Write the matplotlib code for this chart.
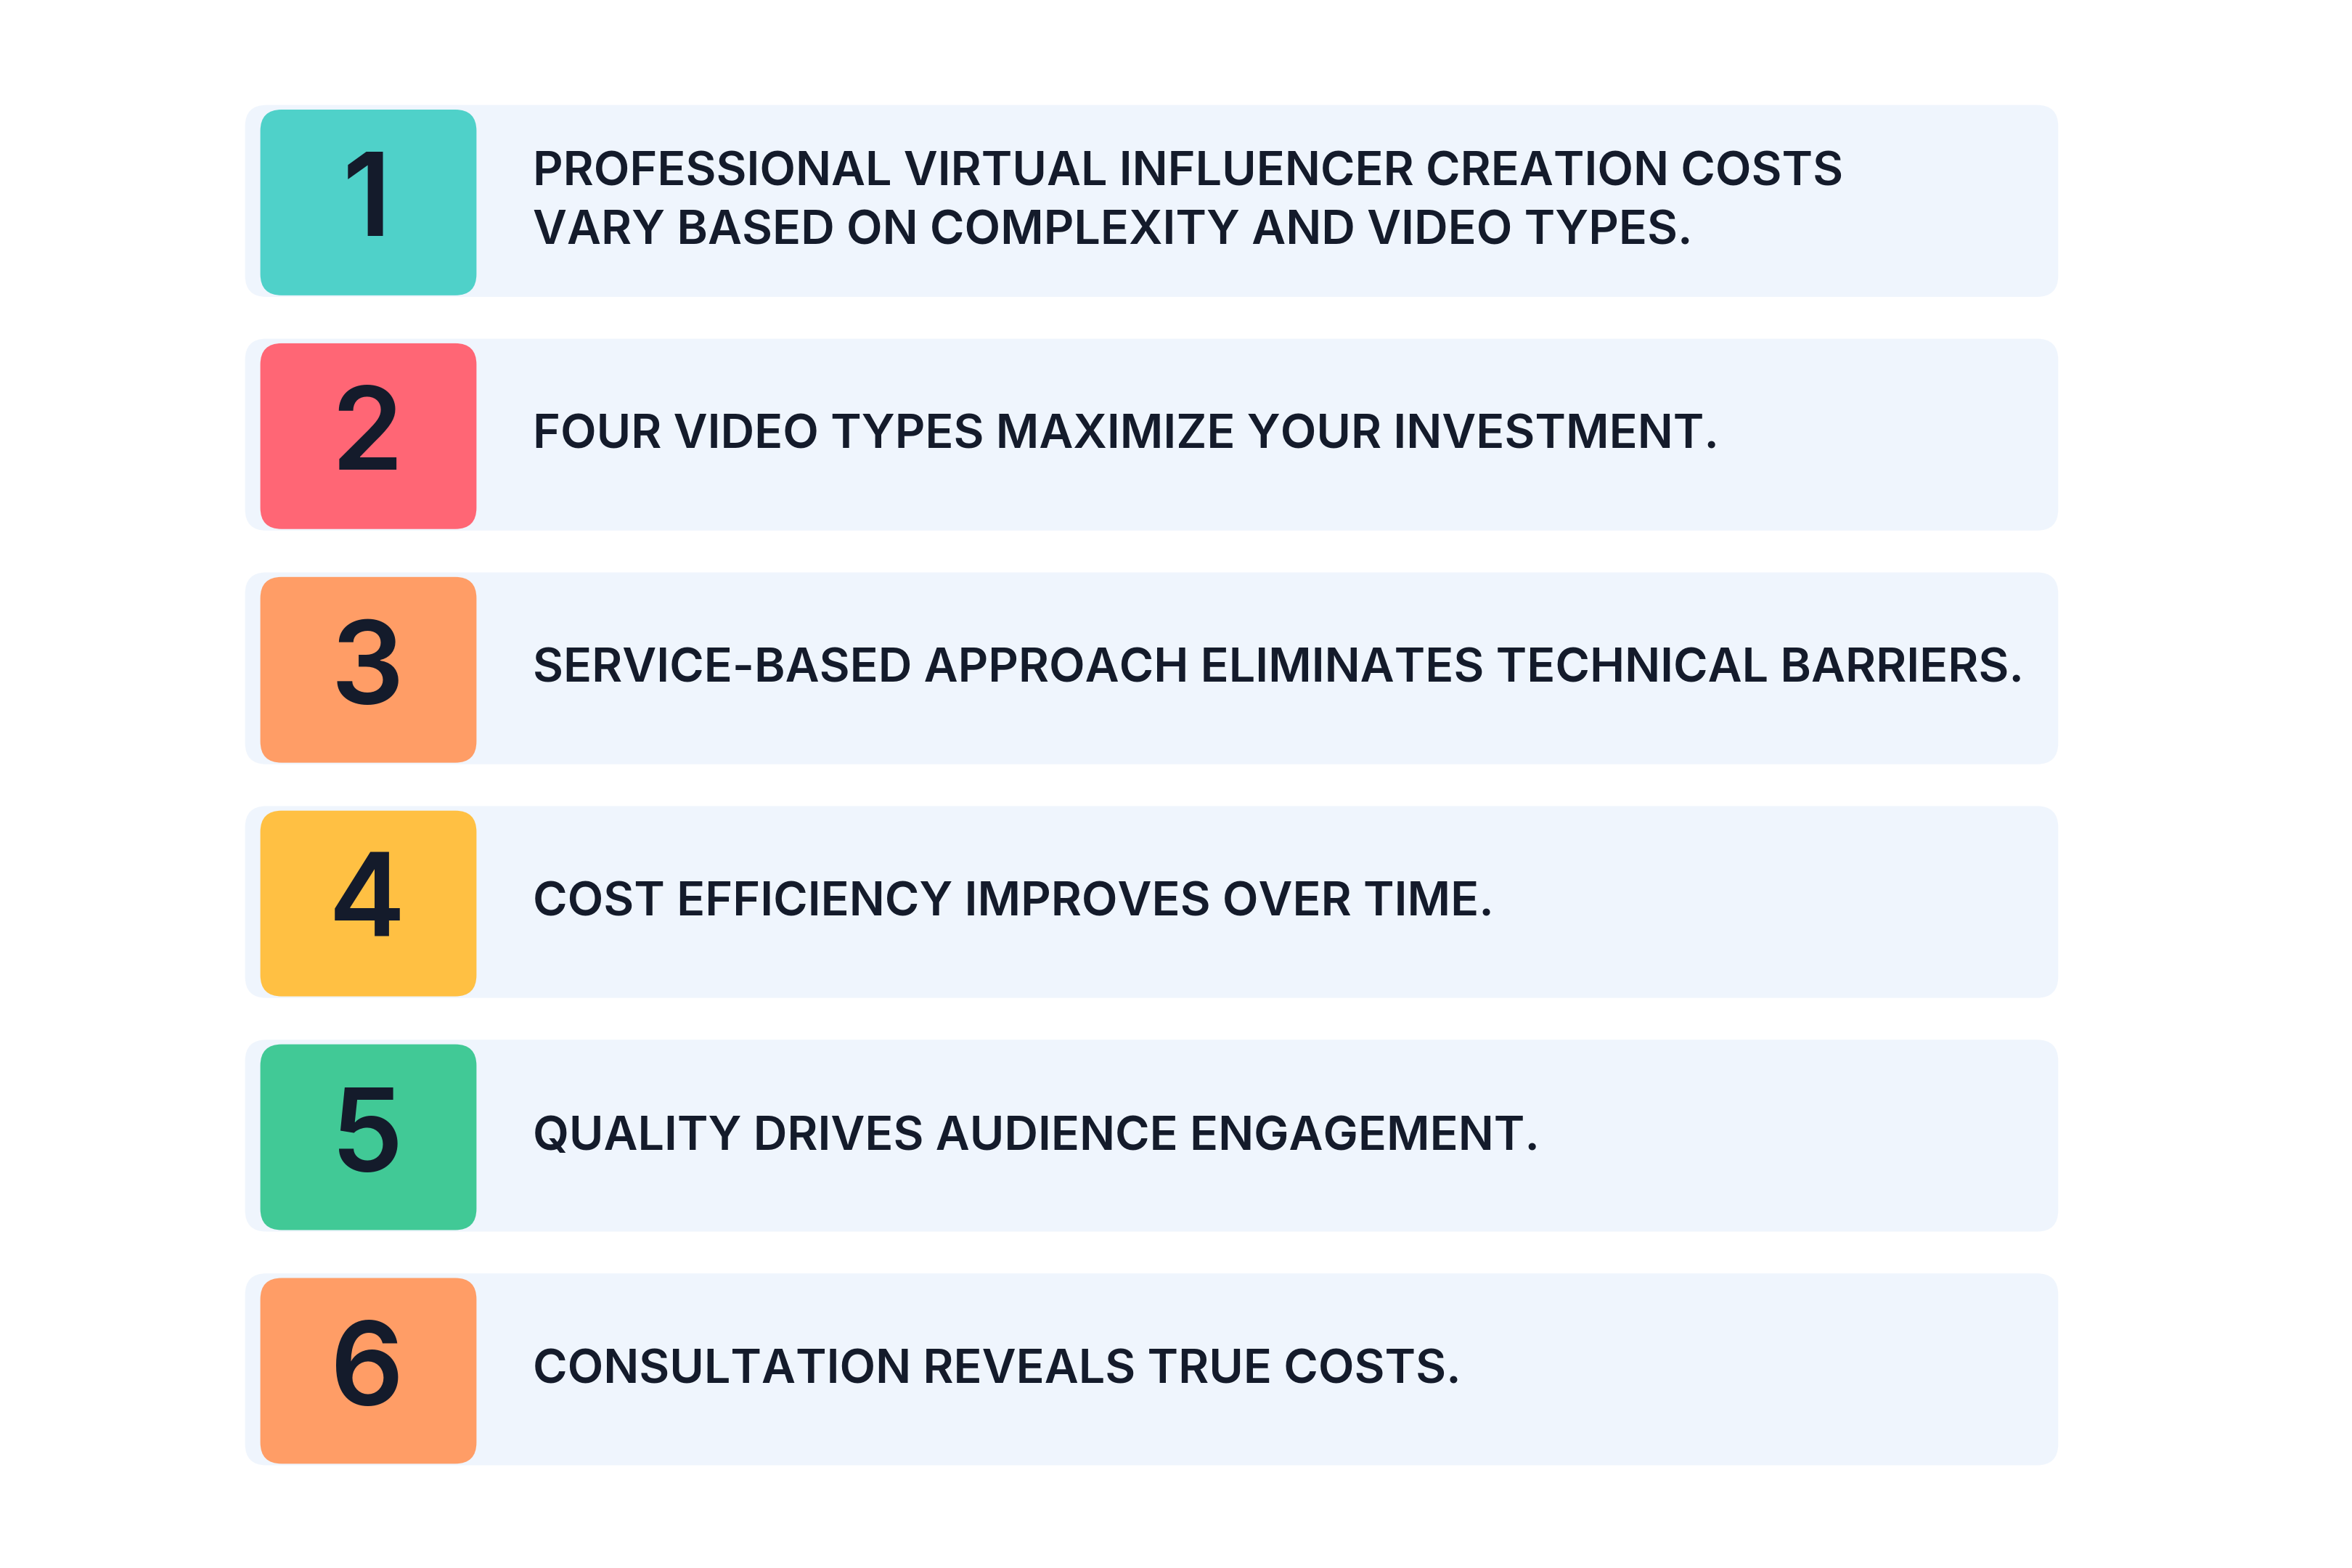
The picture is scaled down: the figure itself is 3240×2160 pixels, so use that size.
import matplotlib.pyplot as plt
from matplotlib.patches import FancyBboxPatch

numbers = ["1", "2", "3", "4", "5", "6"]
labels = [
    "PROFESSIONAL VIRTUAL INFLUENCER CREATION COSTS\nVARY BASED ON COMPLEXITY AND VIDEO TYPES.",
    "FOUR VIDEO TYPES MAXIMIZE YOUR INVESTMENT.",
    "SERVICE-BASED APPROACH ELIMINATES TECHNICAL BARRIERS.",
    "COST EFFICIENCY IMPROVES OVER TIME.",
    "QUALITY DRIVES AUDIENCE ENGAGEMENT.",
    "CONSULTATION REVEALS TRUE COSTS.",
]
colors = ["#4FD1C9", "#FF6675", "#FF9D66", "#FFC043", "#41C996", "#FF9D66"]

W, H = 1545, 1030
fig = plt.figure(figsize=(32.4, 21.6), dpi=100)
ax = fig.add_axes([0, 0, 1, 1])
ax.set_xlim(0, W)
ax.set_ylim(H, 0)
ax.axis("off")

row_h = 126
for i, (num, lab, col) in enumerate(zip(numbers, labels, colors)):
    top = 69 + i * 153.5
    ax.add_patch(FancyBboxPatch((161, top), 1191, row_h,
                                boxstyle="round,pad=0,rounding_size=14",
                                fc="#EFF5FD", ec="none"))
    ax.add_patch(FancyBboxPatch((171, top + 3), 142, 122,
                                boxstyle="round,pad=0,rounding_size=14",
                                fc=col, ec="none"))
    ax.text(241, top + 66, num, ha="center", va="center", fontsize=114,
            fontfamily="Inter", fontweight="semibold", color="#141B2B")
    ax.text(350, top + 64, lab, ha="left", va="center", fontsize=46.5,
            fontfamily="Inter", fontweight="semibold", color="#141B2B",
            linespacing=1.45)

fig.savefig("out.png", dpi=100, facecolor="white")
